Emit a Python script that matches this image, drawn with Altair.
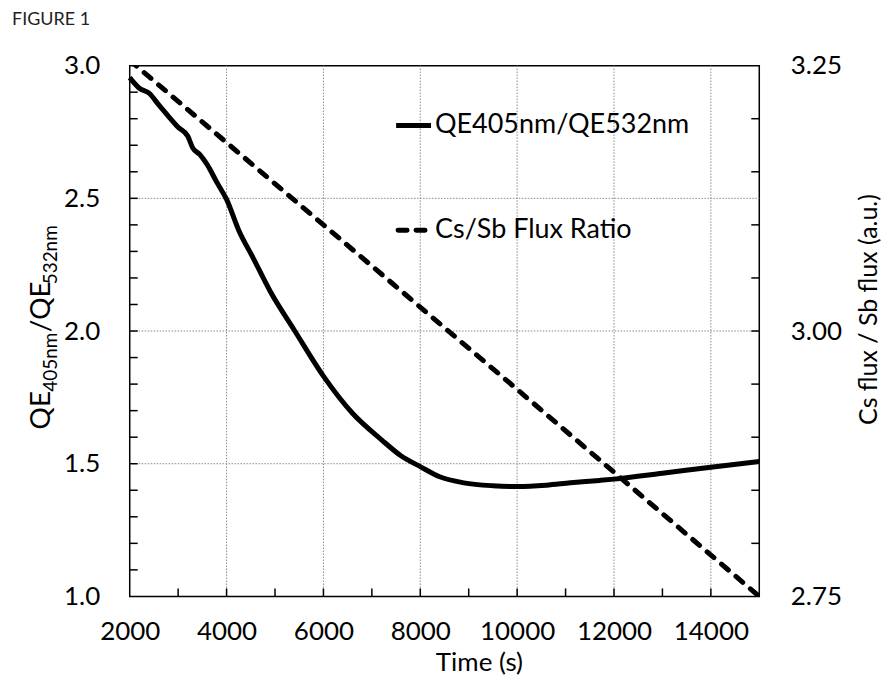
import altair as alt
import pandas as pd

# ---- data ----
time_qe = [2000, 2200, 2400, 2600, 2800, 3000, 3200, 3300, 3450, 3600, 3800, 4000,
           4250, 4550, 4900, 5400, 6000, 6600, 7200, 7600, 8000, 8400, 8900, 9500,
           10000, 10600, 11100, 11700, 12000, 13000, 14000, 15000]
qe_ratio = [2.955, 2.915, 2.896, 2.852, 2.809, 2.768, 2.734, 2.69, 2.665, 2.627, 2.56, 2.496,
            2.38, 2.275, 2.15, 2.003, 1.83, 1.69, 1.59, 1.53, 1.489, 1.451, 1.428, 1.417,
            1.414, 1.419, 1.428, 1.437, 1.442, 1.464, 1.487, 1.508]

time_flux = [2000, 6000, 10000, 15000]
flux_ratio = [3.255, 3.10, 2.945, 2.75]

x_labels = [2000, 4000, 6000, 8000, 10000, 12000, 14000]
x_grid = [4000, 6000, 8000, 10000, 12000, 14000]
x_ticks = [3000, 4000, 5000, 6000, 7000, 8000, 9000, 10000, 11000, 12000, 13000, 14000]
y_labels = [1.0, 1.5, 2.0, 2.5, 3.0]
y_grid = [1.5, 2.0, 2.5]
y_ticks = [1.1, 1.2, 1.3, 1.4, 1.5, 1.6, 1.7, 1.8, 1.9, 2.0,
           2.1, 2.2, 2.3, 2.4, 2.5, 2.6, 2.7, 2.8, 2.9]
yr_labels = [2.75, 3.00, 3.25]
yr_ticks = [2.80, 2.85, 2.90, 2.95, 3.00, 3.05, 3.10, 3.15, 3.20]

FONT = "Lato"
W, H = 631, 532

xscale = alt.Scale(domain=[2000, 15000], nice=False, zero=False)
yscale = alt.Scale(domain=[1.0, 3.0], nice=False, zero=False)
yrscale = alt.Scale(domain=[2.75, 3.25], nice=False, zero=False)

qe_df = pd.DataFrame({"t": time_qe, "v": qe_ratio})
flux_df = pd.DataFrame({"t": time_flux, "v": flux_ratio})
one = pd.DataFrame({"a": [0]})

x_axis = alt.Axis(values=x_labels, format="d", title="Time (s)", grid=False,
                  ticks=False, domain=False, labelPadding=22, labelFlush=False,
                  titleFontSize=26, titleX=350, titleY=66, titleAlign="center",
                  titleBaseline="middle")
y_axis = alt.Axis(values=y_labels, format=".1f", title=None, grid=False,
                  ticks=False, domain=False, labelPadding=30)
yr_axis = alt.Axis(values=yr_labels, format=".2f", orient="right", title="Cs flux / Sb flux (a.u.)",
                   grid=False, ticks=False, domain=False, labelPadding=31,
                   titleAngle=270, titleX=109, titleY=244, titleAlign="center",
                   titleBaseline="middle", titleFontSize=25)

GRID_STYLE = dict(color="#8a8a8a", strokeWidth=1, strokeDash=[1.5, 1.5])

xg = alt.Chart(pd.DataFrame({"t": x_grid})).mark_rule(**GRID_STYLE).encode(
    x=alt.X("t:Q", scale=xscale, axis=x_axis), y=alt.value(0), y2=alt.value(H))
yg = alt.Chart(pd.DataFrame({"v": y_grid})).mark_rule(**GRID_STYLE).encode(
    y=alt.Y("v:Q", scale=yscale, axis=None), x=alt.value(0), x2=alt.value(W))

solid = alt.Chart(qe_df).mark_line(color="black", strokeWidth=5, strokeJoin="round",
                                   interpolate="monotone").encode(
    x=alt.X("t:Q", scale=xscale, axis=x_axis),
    y=alt.Y("v:Q", scale=yscale, axis=y_axis),
)

dashed = alt.Chart(flux_df).mark_line(color="black", strokeWidth=5, strokeDash=[9, 10],
                                      strokeCap="round", clip=True).encode(
    x=alt.X("t:Q", scale=xscale, axis=x_axis),
    y=alt.Y("v:Q", scale=yrscale, axis=yr_axis),
)

xt = alt.Chart(pd.DataFrame({"t": x_ticks})).mark_rule(color="black", strokeWidth=1.5).encode(
    x=alt.X("t:Q", scale=xscale, axis=x_axis), y=alt.value(H), y2=alt.value(H - 8))
ylt = alt.Chart(pd.DataFrame({"v": y_ticks})).mark_rule(color="black", strokeWidth=1.5).encode(
    y=alt.Y("v:Q", scale=yscale, axis=None), x=alt.value(0), x2=alt.value(8))
yrt = alt.Chart(pd.DataFrame({"v": yr_ticks})).mark_rule(color="black", strokeWidth=1.5).encode(
    y=alt.Y("v:Q", scale=yrscale, axis=None), x=alt.value(W - 8), x2=alt.value(W))

# legend
leg_solid = alt.Chart(one).mark_rule(color="black", strokeWidth=5).encode(
    x=alt.value(267), x2=alt.value(302), y=alt.value(60))
leg_dash = alt.Chart(one).mark_rule(color="black", strokeWidth=5, strokeDash=[9, 9],
                                    strokeCap="round").encode(
    x=alt.value(269), x2=alt.value(302), y=alt.value(165))
leg_text = alt.Chart(pd.DataFrame({"label": ["QE405nm/QE532nm", "Cs/Sb Flux Ratio"],
                                   "yy": [60, 165]})).mark_text(
    font=FONT, fontSize=27, align="left", baseline="middle", color="black").encode(
    text="label:N", x=alt.value(306), y=alt.Y("yy:Q", scale=None, axis=None))

# left axis title with subscripts
seg_text = ["QE", "405nm", "/QE", "532nm"]
seg_size = [28, 19, 28, 19]
seg_y = [364.6, 326.9, 267.1, 219.2]
seg_x = [-80, -73, -80, -73]
title_layers = []
for s, fs, yy, xx in zip(seg_text, seg_size, seg_y, seg_x):
    title_layers.append(
        alt.Chart(one).mark_text(text=s, font=FONT, fontSize=fs, angle=270, align="left",
                                 baseline="alphabetic", color="black").encode(
            x=alt.value(xx), y=alt.value(yy)))

fig_label = alt.Chart(one).mark_text(text="FIGURE 1", font=FONT, fontSize=18, align="left",
                                     baseline="alphabetic", color="#222222").encode(
    x=alt.value(-118), y=alt.value(-41))

chart = alt.layer(xg, yg, solid, dashed, xt, ylt, yrt, leg_solid, leg_dash, leg_text, fig_label,
                  *title_layers).resolve_scale(y="independent").properties(
    width=W, height=H,
    autosize=alt.AutoSizeParams(type="none"),
    padding={"left": 122, "top": 57, "right": 124, "bottom": 82},
    background="white",
).configure_view(stroke="black", strokeWidth=1.5).configure_axis(
    labelFont=FONT, titleFont=FONT, labelFontSize=26, titleFontSize=26,
    labelColor="black", titleColor="black", titleFontWeight="normal")

chart.save("out.html", embed_options={"renderer": "svg", "actions": False})
